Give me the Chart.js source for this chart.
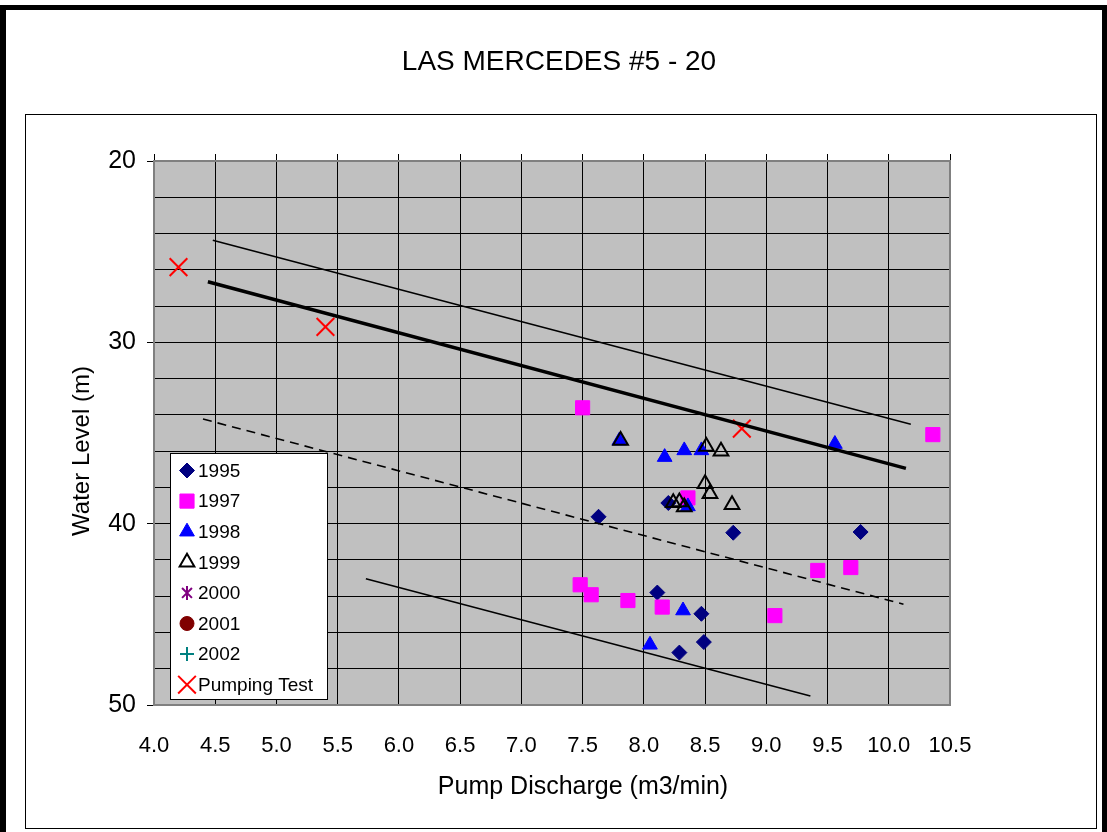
<!DOCTYPE html>
<html>
<head>
<meta charset="utf-8">
<script src="https://cdn.jsdelivr.net/npm/chart.js@4/dist/chart.umd.min.js"></script>
<style>
  html, body { margin: 0; padding: 0; background: #fff; }
  #wrap { position: relative; width: 1107px; height: 832px; }
</style>
</head>
<body>
<div id="wrap"><canvas id="chart" width="1107" height="832"></canvas></div>
<script>
const FONT = '"Liberation Sans", Arial, sans-serif';

// axis ranges / tick labels
const xRange = [4.0, 10.5];
const yRange = [20, 50];
const yLabelStep = 10;

// 1995
const q1995 = [7.63, 8.20, 8.73, 9.77, 8.11, 8.47, 8.49, 8.29];
const wl1995 = [39.62, 38.86, 40.50, 40.46, 43.80, 44.97, 46.53, 47.11];
// 1997
const q1997 = [7.50, 8.36, 10.36, 9.42, 9.69, 7.48, 7.57, 7.87, 8.15, 9.07];
const wl1997 = [33.61, 38.58, 35.09, 42.58, 42.42, 43.37, 43.92, 44.24, 44.60, 45.07];
// 1998
const q1998 = [7.80, 8.17, 8.33, 8.47, 8.36, 9.56, 8.32, 8.05];
const wl1998 = [35.42, 36.33, 35.96, 35.96, 39.05, 35.61, 44.79, 46.68];
// 1999
const q1999 = [7.81, 8.51, 8.63, 8.50, 8.54, 8.72, 8.24, 8.29, 8.33];
const wl1999 = [35.42, 35.74, 36.01, 37.80, 38.35, 38.96, 38.85, 38.80, 39.08];
// 2000-2002 have no points in this well
const q2000 = [], wl2000 = [];
const q2001 = [], wl2001 = [];
const q2002 = [], wl2002 = [];
// pumping test
const qTest = [4.20, 5.40, 8.80];
const wlTest = [25.85, 29.15, 34.76];

// drawn trend lines (end points)
const qFit = [4.44, 10.14], wlFit = [26.66, 36.95];
const qUpper = [4.48, 10.18], wlUpper = [24.37, 34.52];
const qMid = [4.40, 10.12], wlMid = [34.23, 44.44];
const qLower = [5.73, 9.36], wlLower = [43.04, 49.50];

const pts = (xs, ys) => xs.map((x, i) => ({ x, y: ys[i] }));

const lineSet = (xs, ys, width, dash) => ({
  label: '', data: pts(xs, ys), showLine: true, borderColor: '#000',
  borderWidth: width, borderDash: dash || [], pointRadius: 0, legendRow: false
});

const markSet = (label, xs, ys, style, radius, fill, stroke, bw) => ({
  label, data: pts(xs, ys), showLine: false, pointStyle: style, pointRadius: radius,
  pointBackgroundColor: fill, pointBorderColor: stroke, pointBorderWidth: bw, legendRow: true
});

const datasets = [
  lineSet(qFit, wlFit, 3.5),
  lineSet(qUpper, wlUpper, 1.6),
  lineSet(qMid, wlMid, 1.6, [9, 6]),
  lineSet(qLower, wlLower, 1.6),
  markSet('Pumping Test', qTest, wlTest, 'crossRot', 12.5, 'rgba(0,0,0,0)', '#ff0000', 2),
  markSet('2002', q2002, wl2002, 'cross', 7, 'rgba(0,0,0,0)', '#008080', 2),
  markSet('2001', q2001, wl2001, 'circle', 7, '#800000', '#800000', 1),
  markSet('2000', q2000, wl2000, 'star', 7, 'rgba(0,0,0,0)', '#800080', 2),
  markSet('1999', q1999, wl1999, 'triangle', 8.5, 'rgba(0,0,0,0)', '#000', 2),
  markSet('1998', q1998, wl1998, 'triangle', 8.5, '#0000ff', '#0000ff', 1),
  markSet('1997', q1997, wl1997, 'rect', 10, '#ff00ff', '#ff00ff', 1),
  markSet('1995', q1995, wl1995, 'rectRot', 7.5, '#000080', '#000080', 1)
];

function drawMarker(ctx, ds, x, y) {
  const r = ds.pointRadius;
  ctx.save();
  ctx.fillStyle = ds.pointBackgroundColor;
  ctx.strokeStyle = ds.pointBorderColor;
  ctx.lineWidth = ds.pointBorderWidth;
  ctx.beginPath();
  const s = ds.pointStyle;
  if (s === 'rectRot') {
    ctx.moveTo(x, y - r); ctx.lineTo(x + r, y); ctx.lineTo(x, y + r); ctx.lineTo(x - r, y); ctx.closePath();
    ctx.fill(); ctx.stroke();
  } else if (s === 'rect') {
    const h = r * Math.SQRT1_2;
    ctx.rect(x - h, y - h, 2 * h, 2 * h); ctx.fill(); ctx.stroke();
  } else if (s === 'triangle') {
    ctx.moveTo(x, y - r);
    ctx.lineTo(x + r * Math.sin(2 * Math.PI / 3), y - r * Math.cos(2 * Math.PI / 3));
    ctx.lineTo(x + r * Math.sin(4 * Math.PI / 3), y - r * Math.cos(4 * Math.PI / 3));
    ctx.closePath(); ctx.fill(); ctx.stroke();
  } else if (s === 'circle') {
    ctx.arc(x, y, r, 0, Math.PI * 2); ctx.fill(); ctx.stroke();
  } else if (s === 'star') {
    // six-armed asterisk like the reference legend
    const d = r * Math.SQRT1_2;
    ctx.moveTo(x - d, y - d); ctx.lineTo(x + d, y + d);
    ctx.moveTo(x + d, y - d); ctx.lineTo(x - d, y + d);
    ctx.moveTo(x, y - r); ctx.lineTo(x, y + r);
    ctx.stroke();
  } else if (s === 'cross') {
    ctx.moveTo(x - r, y); ctx.lineTo(x + r, y);
    ctx.moveTo(x, y - r); ctx.lineTo(x, y + r);
    ctx.stroke();
  } else if (s === 'crossRot') {
    const d = r * Math.SQRT1_2;
    ctx.moveTo(x - d, y - d); ctx.lineTo(x + d, y + d);
    ctx.moveTo(x + d, y - d); ctx.lineTo(x - d, y + d);
    ctx.stroke();
  }
  ctx.restore();
}

const decor = {
  id: 'decor',
  beforeDraw(chart) {
    const { ctx, chartArea: a } = chart;
    ctx.save();
    ctx.fillStyle = '#fff';
    ctx.fillRect(0, 0, chart.width, chart.height);
    // outer frame
    ctx.fillStyle = '#000';
    ctx.fillRect(0, 5, chart.width, 5);
    ctx.fillRect(0, 5, 6, chart.height);
    ctx.fillRect(chart.width - 5, 5, 5, chart.height);
    // chart area box
    ctx.strokeStyle = '#000';
    ctx.lineWidth = 1;
    ctx.strokeRect(25.5, 114.5, 1071, 714);
    // plot area
    ctx.fillStyle = '#c0c0c0';
    ctx.fillRect(a.left, a.top, a.right - a.left, a.bottom - a.top);
    ctx.restore();
  },
  afterDraw(chart) {
    const { ctx, chartArea: a } = chart;
    ctx.save();
    // plot frame
    ctx.strokeStyle = '#808080';
    ctx.lineWidth = 2;
    ctx.strokeRect(a.left, a.top, a.right - a.left, a.bottom - a.top);

    // texts
    ctx.fillStyle = '#000';
    ctx.textAlign = 'center';
    ctx.textBaseline = 'middle';
    ctx.font = '28px ' + FONT;
    ctx.fillText('LAS MERCEDES #5 - 20', 559, 62);
    ctx.font = '25px ' + FONT;
    ctx.fillText('Pump Discharge (m3/min)', 583, 787);
    ctx.save();
    ctx.translate(82, 451);
    ctx.rotate(-Math.PI / 2);
    ctx.font = '24px ' + FONT;
    ctx.fillText('Water Level (m)', 0, 0);
    ctx.restore();

    // legend box
    ctx.fillStyle = '#fff';
    ctx.fillRect(171, 453, 156, 246);
    ctx.strokeStyle = '#000';
    ctx.lineWidth = 1;
    ctx.strokeRect(170.5, 453.5, 157, 246);
    const rows = chart.data.datasets.filter(d => d.legendRow).slice().reverse();
    ctx.font = '19px ' + FONT;
    ctx.textAlign = 'left';
    rows.forEach((ds, i) => {
      const y = 470.5 + i * 30.6;
      drawMarker(ctx, ds, 187, y);
      ctx.fillStyle = '#000';
      ctx.fillText(ds.label, 198, y + 1);
    });
    ctx.restore();
  }
};

const tickFont = { family: FONT, size: 22 };

new Chart(document.getElementById('chart').getContext('2d'), {
  type: 'scatter',
  data: { datasets },
  options: {
    responsive: false,
    animation: false,
    events: [],
    layout: { padding: { left: 0, right: 157, top: 0, bottom: 0 } },
    plugins: { legend: { display: false }, tooltip: { enabled: false } },
    scales: {
      x: {
        type: 'linear', position: 'bottom', min: xRange[0], max: xRange[1],
        ticks: { stepSize: 0.5, autoSkip: false, maxRotation: 0, padding: 28,
          color: '#000', font: tickFont, callback: v => Number(v).toFixed(1) },
        grid: { color: '#000', lineWidth: 1, drawTicks: false },
        border: { display: false },
        afterFit: s => { s.height = 127; }
      },
      xTop: {
        type: 'linear', position: 'top', min: xRange[0], max: xRange[1],
        ticks: { stepSize: 0.5, display: false },
        grid: { drawOnChartArea: false, color: '#000', tickLength: 7 },
        border: { display: false },
        afterFit: s => { s.height = 161; }
      },
      y: {
        type: 'linear', reverse: true, min: yRange[0], max: yRange[1],
        ticks: { stepSize: 2, autoSkip: false, padding: 11, color: '#000',
          font: { family: FONT, size: 25 },
          callback: v => (v % yLabelStep === 0 ? String(v) : '') },
        grid: { color: '#000', lineWidth: 1, tickLength: 7,
          tickColor: c => (c.tick && c.tick.value % yLabelStep === 0 ? '#000' : 'rgba(0,0,0,0)') },
        border: { display: false },
        afterFit: s => { s.width = 154; }
      }
    }
  },
  plugins: [decor]
});
</script>
</body>
</html>
